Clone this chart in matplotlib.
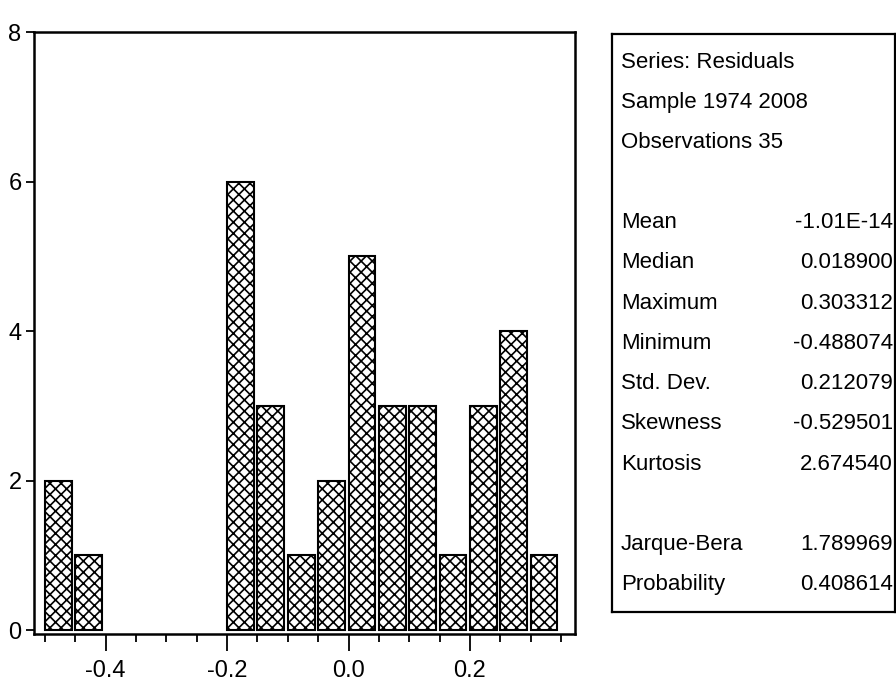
import matplotlib
matplotlib.use("Agg")
import matplotlib.pyplot as plt
from matplotlib.ticker import MultipleLocator, FixedLocator

plt.rcParams['font.family'] = ['Liberation Sans', 'DejaVu Sans']
plt.rcParams['hatch.linewidth'] = 1.2

# Histogram of residuals: left edges of 0.05-wide bins and their counts
bin_left = [-0.50, -0.45, -0.40, -0.35, -0.30, -0.25, -0.20, -0.15, -0.10,
            -0.05, 0.00, 0.05, 0.10, 0.15, 0.20, 0.25, 0.30]
counts = [2, 1, 0, 0, 0, 0, 6, 3, 1, 2, 5, 3, 3, 1, 3, 4, 1]

y_ticks = [0, 2, 4, 6, 8]
x_major = [-0.4, -0.2, 0.0, 0.2]
x_labels = ["-0.4", "-0.2", "0.0", "0.2"]

# Descriptive statistics panel
header_lines = ["Series: Residuals", "Sample 1974 2008", "Observations 35"]
stat_names = ["Mean", "Median", "Maximum", "Minimum", "Std. Dev.", "Skewness", "Kurtosis"]
stat_values = ["-1.01E-14", "0.018900", "0.303312", "-0.488074", "0.212079",
               "-0.529501", "2.674540"]
test_names = ["Jarque-Bera", "Probability"]
test_values = ["1.789969", "0.408614"]

W, H = 896, 682
fig = plt.figure(figsize=(W / 100, H / 100), dpi=100)

ax = fig.add_axes([34 / W, 1 - 634 / H, (575 - 34) / W, (634 - 32) / H])
xs = [b for b, c in zip(bin_left, counts) if c > 0]
hs = [c for c in counts if c > 0]
ax.bar(xs, hs, width=0.044, align='edge', facecolor='white',
       edgecolor='black', hatch='xxx', linewidth=1.5)

ax.set_xlim(-0.518, 0.373)
ax.set_ylim(-0.05, 8)
ax.yaxis.set_major_locator(FixedLocator(y_ticks))
ax.xaxis.set_major_locator(FixedLocator(x_major))
ax.xaxis.set_minor_locator(MultipleLocator(0.05))
ax.set_xticklabels(x_labels)
ax.tick_params(axis='x', which='major', length=12, width=1.3, direction='out',
               labelsize=17, pad=7)
ax.tick_params(axis='x', which='minor', length=6, width=1.3, direction='out')
ax.tick_params(axis='y', which='major', length=6, width=1.3, direction='out',
               labelsize=17, pad=3)
for sp in ax.spines.values():
    sp.set_linewidth(1.8)

# Statistics box
bx0, bx1, by0, by1 = 612, 895, 34, 612
box = fig.add_axes([bx0 / W, 1 - by1 / H, (bx1 - bx0) / W, (by1 - by0) / H])
box.set_xticks([])
box.set_yticks([])
box.set_xlim(bx0, bx1)
box.set_ylim(by1, by0)
for sp in box.spines.values():
    sp.set_linewidth(1.6)

line_step = 40.2
y0 = 62
fs = 16
lx, rx = 621, 893
slot = 0
for t in header_lines:
    box.text(lx, y0 + slot * line_step, t, fontsize=fs, va='center', ha='left')
    slot += 1
slot += 1
for n, v in zip(stat_names, stat_values):
    box.text(lx, y0 + slot * line_step, n, fontsize=fs, va='center', ha='left')
    box.text(rx, y0 + slot * line_step, v, fontsize=fs, va='center', ha='right')
    slot += 1
slot += 1
for n, v in zip(test_names, test_values):
    box.text(lx, y0 + slot * line_step, n, fontsize=fs, va='center', ha='left')
    box.text(rx, y0 + slot * line_step, v, fontsize=fs, va='center', ha='right')
    slot += 1

fig.savefig("out.png", dpi=100)
